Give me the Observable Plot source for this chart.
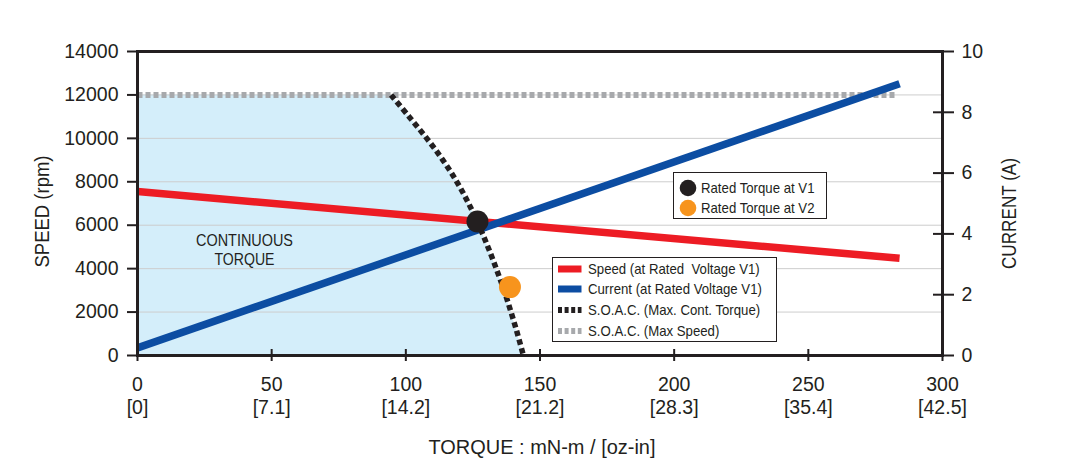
<!DOCTYPE html>
<html>
<head>
<meta charset="utf-8">
<script src="https://cdn.jsdelivr.net/npm/d3@7"></script>
<script src="https://cdn.jsdelivr.net/npm/@observablehq/plot@0.6"></script>
<style>
  body { margin: 0; background: #fff; }
  #chart { position: relative; width: 1065px; height: 466px; color: #231f20;
           font-family: "Liberation Sans", Arial, sans-serif; }
  #chart > svg.plot { position: absolute; left: 0; top: 0; }
  .box { position: absolute; background: #fff; border: 1.5px solid #231f20; box-sizing: border-box; }
  .row { position: absolute; height: 20px; line-height: 20px; font-size: 15px; white-space: nowrap; }
  .row svg { position: absolute; left: 0; top: 0; }
  .row span { position: absolute; top: 0; transform: scaleX(0.88); transform-origin: 0 50%; }
</style>
</head>
<body>
<div id="chart"></div>
<script>
// Axis ticks
const torqueTicks = [0, 50, 100, 150, 200, 250, 300];          // mN-m
const ozInLabels = ["[0]", "[7.1]", "[14.2]", "[21.2]", "[28.3]", "[35.4]", "[42.5]"];
const speedTicks = [0, 2000, 4000, 6000, 8000, 10000, 12000, 14000];
const speedGrid = [2000, 4000, 6000, 8000, 10000, 12000];
const currentTicks = [0, 2, 4, 6, 8, 10];
const speedDomain = [0, 14000];
const currentDomain = [0, 10];

// Speed and current at rated voltage V1 (straight-line characteristics)
const lineTorque = [0, 284];
const speedRpm = [7550, 4475];
const currentA = [0.25, 8.94];

// Safe operating area: maximum speed limit
const maxSpeedTorque = [0, 283];
const maxSpeedRpm = [12000, 12000];

// Safe operating area: maximum continuous torque boundary
const soacTorque = [94.5, 101.2, 107.8, 113.8, 119.0, 123.4, 127.2, 130.6, 133.7, 136.6, 139.2, 141.6, 143.8];
const soacSpeed  = [12000, 11000, 10000, 9000, 8000, 7000, 6000, 5000, 4000, 3000, 2000, 1000, 0];

// Rated torque operating points
const ratedTorque = [126.7, 138.8];
const ratedSpeed = [6170, 3150];
const ratedLabels = ["Rated Torque at V1", "Rated Torque at V2"];
const ratedColors = ["#231f20", "#f7941d"];

// Line legend
const lineLabels = ["Speed (at Rated\u00a0 Voltage V1)", "Current (at Rated Voltage V1)",
                    "S.O.A.C. (Max. Cont. Torque)", "S.O.A.C. (Max Speed)"];
const lineColors = ["#ed1c24", "#0c4da2", "#231f20", "#a7a9ac"];
const lineDashes = [null, null, "4,2.6", "4,2.6"];

// Titles
const speedTitle = "SPEED (rpm)";
const currentTitle = "CURRENT (A)";
const torqueTitle = "TORQUE : mN-m / [oz-in]";
const regionLabel = "CONTINUOUS\nTORQUE";

const ink = "#231f20";
const rpmPerAmp = speedDomain[1] / currentDomain[1];
const toRpm = (a) => a * rpmPerAmp;

const chart = Plot.plot({
  width: 1065,
  height: 466,
  marginLeft: 137,
  marginRight: 123,
  marginTop: 51,
  marginBottom: 111,
  style: {fontFamily: "'Liberation Sans', Arial, sans-serif", fontSize: "19.5px", color: ink, background: "transparent", overflow: "visible"},
  x: {domain: [0, 300], axis: null},
  y: {domain: speedDomain, axis: null},
  marks: [
    // continuous torque region
    Plot.areaX(soacTorque, {y: soacSpeed, x1: 0, x2: soacTorque, fill: "#d4eefa", curve: "catmull-rom"}),
    Plot.ruleY(speedGrid, {stroke: "#cdcdcd", strokeWidth: 1}),
    Plot.line(maxSpeedTorque, {x: maxSpeedTorque, y: maxSpeedRpm, stroke: "#a7a9ac", strokeWidth: 6,
                               strokeDasharray: "5,3", strokeLinecap: "butt"}),
    Plot.line(lineTorque, {x: lineTorque, y: speedRpm, stroke: "#ed1c24", strokeWidth: 7.5, strokeLinecap: "butt"}),
    Plot.line(lineTorque, {x: lineTorque, y: currentA.map(toRpm), stroke: "#0c4da2", strokeWidth: 7.5, strokeLinecap: "butt"}),
    Plot.line(soacTorque, {x: soacTorque, y: soacSpeed, stroke: ink, strokeWidth: 5.5, strokeDasharray: "5.5,3.5",
                           strokeLinecap: "butt", curve: "catmull-rom"}),
    Plot.dot(ratedTorque, {x: ratedTorque, y: ratedSpeed, r: 11, fill: ratedColors, stroke: "none"}),
    Plot.text([regionLabel], {text: (d) => d, frameAnchor: "left", textAnchor: "middle", lineAnchor: "middle", dx: 107, dy: 46,
                              fontSize: 17, lineHeight: 1.13, fill: ink, ariaDescription: "region-label"}),
    Plot.frame({stroke: ink, strokeWidth: 3}),

    // left speed axis
    Plot.axisY({ticks: speedTicks, anchor: "left", tickSize: 10, tickPadding: 9, strokeWidth: 2, stroke: ink, fill: ink, label: null,
                tickFormat: d3.format("d")}),
    // right current axis (ticks cross the frame)
    Plot.axisY({ticks: currentTicks.map(toRpm), anchor: "right", tickSize: 21, dx: -10, strokeWidth: 2, stroke: ink, fill: "none", label: null}),
    Plot.axisY({ticks: currentTicks.map(toRpm), anchor: "right", tickSize: 0, tickPadding: 19, fill: ink, label: null,
                tickFormat: (v) => String(Math.round(v / rpmPerAmp))}),
    // bottom torque axis with oz-in equivalents
    Plot.axisX({ticks: torqueTicks, anchor: "bottom", tickSize: 12, dy: -6, strokeWidth: 2, stroke: ink, fill: "none", label: null}),
    Plot.axisX({ticks: torqueTicks, anchor: "bottom", tickSize: 0, tickPadding: 20, lineHeight: 1.15, fill: ink, label: null,
                tickFormat: (t) => `${t}\n${ozInLabels[torqueTicks.indexOf(t)]}`}),

    // axis titles
    Plot.text([speedTitle], {text: (d) => d, frameAnchor: "left", textAnchor: "middle", lineAnchor: "middle", dx: -95, dy: 8, rotate: -90,
                             fontSize: 20.5, fill: ink, ariaDescription: "speed-title"}),
    Plot.text([currentTitle], {text: (d) => d, frameAnchor: "right", textAnchor: "middle", lineAnchor: "middle", dx: 67, dy: 10, rotate: -90,
                               fontSize: 20, fill: ink, ariaDescription: "current-title"}),
    Plot.text([torqueTitle], {text: (d) => d, frameAnchor: "bottom", textAnchor: "middle", lineAnchor: "middle", dx: 2, dy: 92,
                              fontSize: 20, fill: ink, ariaDescription: "torque-title"})
  ]
});
chart.classList.add("plot");

// condensed lettering for the titles
const fitWidth = (sel, len) => sel.attr("textLength", len).attr("lengthAdjust", "spacingAndGlyphs");
const svg = d3.select(chart);
fitWidth(svg.selectAll('g[aria-description="speed-title"] text'), 112);
fitWidth(svg.selectAll('g[aria-description="current-title"] text'), 111);
fitWidth(svg.selectAll('g[aria-description="torque-title"] text'), 227);
svg.selectAll('g[aria-description="region-label"] tspan').each(function (d, i) {
  fitWidth(d3.select(this), i === 0 ? 97 : 60);
});

const root = document.getElementById("chart");
root.appendChild(chart);

// Legend boxes drawn over the plot area
function box(left, top, width, height) {
  const el = document.createElement("div");
  el.className = "box";
  Object.assign(el.style, {left: left + "px", top: top + "px", width: width + "px", height: height + "px"});
  root.appendChild(el);
  return el;
}
function row(parent, top, textLeft, swatch, label) {
  const r = document.createElement("div");
  r.className = "row";
  Object.assign(r.style, {left: "0px", top: top + "px", width: "100%"});
  r.innerHTML = swatch + `<span style="left:${textLeft}px">${label}</span>`;
  parent.appendChild(r);
}

const lineBox = box(552, 257, 225, 85);
lineLabels.forEach((label, i) => {
  const dash = lineDashes[i] ? `stroke-dasharray="${lineDashes[i]}"` : "";
  const w = lineDashes[i] ? 6 : 7;
  const sw = `<svg width="40" height="20"><line x1="5" x2="28.5" y1="10" y2="10" stroke="${lineColors[i]}" stroke-width="${w}" ${dash}/></svg>`;
  row(lineBox, 0.8 + i * 20.6, 35, sw, label);
});

const dotBox = box(673, 172, 154, 47);
ratedLabels.forEach((label, i) => {
  const sw = `<svg width="30" height="20"><circle cx="14" cy="10" r="8.3" fill="${ratedColors[i]}"/></svg>`;
  row(dotBox, 4.5 + i * 20, 27, sw, label);
});
</script>
</body>
</html>
